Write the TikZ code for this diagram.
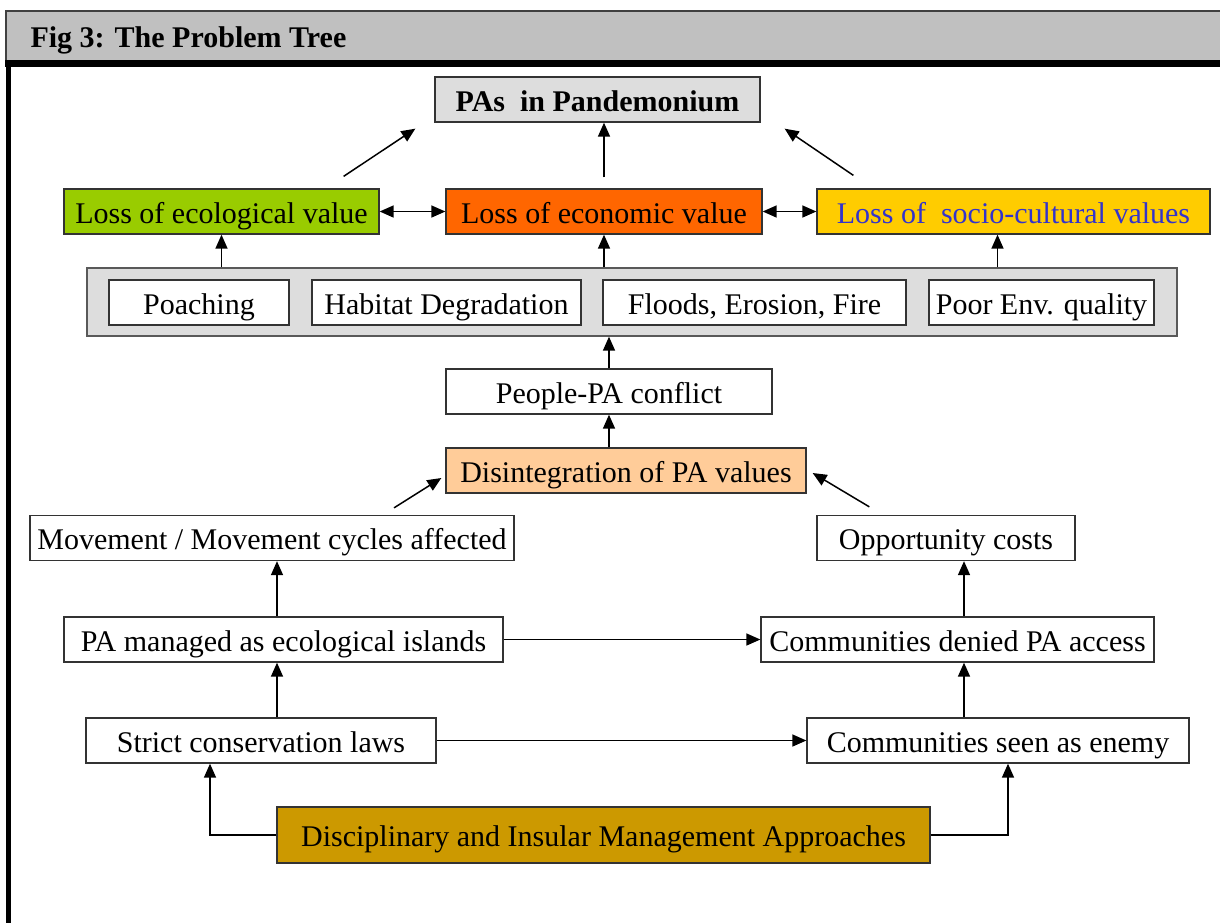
\documentclass[tikz,border=0pt]{standalone}
\usepackage{fontspec}
\setmainfont{Liberation Serif}
\usetikzlibrary{positioning,arrows.meta,calc}
\definecolor{bargray}{HTML}{C0C0C0}
\definecolor{boxgray}{HTML}{DDDDDD}
\definecolor{ecogreen}{HTML}{99CC00}
\definecolor{econorange}{HTML}{FF6600}
\definecolor{sociogold}{HTML}{FFCC00}
\definecolor{socioblue}{HTML}{3333CC}
\definecolor{peach}{HTML}{FFCC99}
\definecolor{rootgold}{HTML}{CC9900}
\newcommand{\treefont}{\fontsize{30}{36}\selectfont}
\tikzset{
  cause/.style  = {rectangle, draw=black!80, line width=1.3pt, fill=white,
                   inner sep=0pt, minimum height=45pt, text height=23pt,
                   text depth=0pt, font=\treefont},
  effect/.style = {cause, fill=#1},
  band/.style   = {rectangle, draw=black!65, line width=1.3pt, fill=boxgray,
                   inner sep=0pt},
  flow/.style   = {-{Triangle[length=14pt,width=12pt]}, line width=1.5pt, black},
  bus/.style    = {{Triangle[length=14pt,width=12pt]}-{Triangle[length=14pt,width=12pt]},
                   line width=1.5pt, black},
}

\begin{document}
\begin{tikzpicture}[x=1pt,y=-1pt]
  \useasboundingbox (0,0) rectangle (1220,922);

  % frame and heading
  \draw[black!75, line width=1.5pt, fill=bargray] (6,11) rectangle (1240,61);
  \draw[line width=7pt] (5,63.5) -- (1240,63.5);
  \draw[line width=5.5pt] (8.5,60) -- (8.5,930);
  \node[anchor=base west, font=\treefont\bfseries] (title) at (27,47) {Fig 3: The Problem Tree};

  % core problem and effects
  \node[effect=boxgray, minimum width=325pt, font=\treefont\bfseries] (pas) at (597.5,99.5) {PAs\ \ in Pandemonium};
  \node[effect=ecogreen, minimum width=315pt] (ecol) at (221.5,211.5) {Loss of ecological value};
  \node[effect=econorange, minimum width=316pt] (econ) at (604,211.5) {Loss of economic value};
  \node[effect=sociogold, minimum width=393pt, text=socioblue] (socio) at (1013.5,211.5) {Loss of\ \ socio-cultural values};

  % direct causes
  \node[band, minimum width=1090pt, minimum height=68pt] (band) at (632,302) {};
  \node[cause, minimum width=180pt] (poach) at (199,302.5) {Poaching};
  \node[cause, minimum width=269pt] (habit) at (446.5,302.5) {Habitat Degradation};
  \node[cause, minimum width=303pt] (flood) at (754.5,302.5) {Floods, Erosion, Fire};
  \node[cause, minimum width=225pt] (poor) at (1041.5,302.5) {Poor Env. quality};

  \node[cause, minimum width=326pt] (people) at (609,391.5) {People-PA conflict};
  \node[effect=peach, minimum width=360pt] (disint) at (626,470.5) {Disintegration of PA values};

  % root causes
  \node[cause, minimum width=484pt] (move) at (272,538) {Movement / Movement cycles affected};
  \node[cause, minimum width=258pt] (opp) at (946,538) {Opportunity costs};
  \node[cause, minimum width=439pt] (island) at (283.5,639.5) {PA managed as ecological islands};
  \node[cause, minimum width=393pt] (denied) at (957.5,639.5) {Communities denied PA access};
  \node[cause, minimum width=350pt] (strict) at (261,740.5) {Strict conservation laws};
  \node[cause, minimum width=382pt] (enemy) at (998,740.5) {Communities seen as enemy};
  \node[effect=rootgold, minimum width=653pt, minimum height=56pt] (disc) at (603.5,835) {Disciplinary and Insular Management Approaches};

  \coordinate (lx) at (277,0);
  \coordinate (rx) at (964,0);

  % arrows to the top
  \draw[flow] ([shift={(-36pt,12pt)}]ecol.north east) -- ([shift={(-19pt,-6pt)}]pas.south west);
  \draw[flow] ([yshift=11pt]econ.north) -- (econ.north |- pas.south);
  \draw[flow] ([shift={(37pt,13pt)}]socio.north west) -- ([shift={(24pt,-6pt)}]pas.south east);
  \draw[bus] (ecol.east) -- (econ.west);
  \draw[bus] (econ.east) -- (socio.west);

  % band to effects
  \draw[flow] (band.north -| ecol.south) -- (ecol.south);
  \draw[flow] (band.north -| econ.south) -- (econ.south);
  \draw[flow] ([xshift=-16pt]socio.south |- band.north) -- ([xshift=-16pt]socio.south);

  % middle chain
  \draw[flow] (people.north) -- (people.north |- band.south);
  \draw[flow] (disint.north -| people.south) -- (people.south);
  \draw[flow] ([shift={(122pt,7pt)}]move.north) -- ([shift={(-4pt,-7.5pt)}]disint.west);
  \draw[flow] ([shift={(53pt,8pt)}]opp.north west) -- ([shift={(6pt,-2.5pt)}]disint.east);

  % lower chain
  \draw[flow] (island.north -| lx) -- (move.south -| lx);
  \draw[flow] (denied.north -| rx) -- (opp.south -| rx);
  \draw[flow] (island.east) -- (denied.west);
  \draw[flow] (strict.north -| lx) -- (island.south -| lx);
  \draw[flow] (enemy.north -| rx) -- (denied.south -| rx);
  \draw[flow] (strict.east) -- (enemy.west);
  \draw[flow] (disc.west) -| ([xshift=-51pt]strict.south);
  \draw[flow] (disc.east) -| ([xshift=10pt]enemy.south);
\end{tikzpicture}
\end{document}
